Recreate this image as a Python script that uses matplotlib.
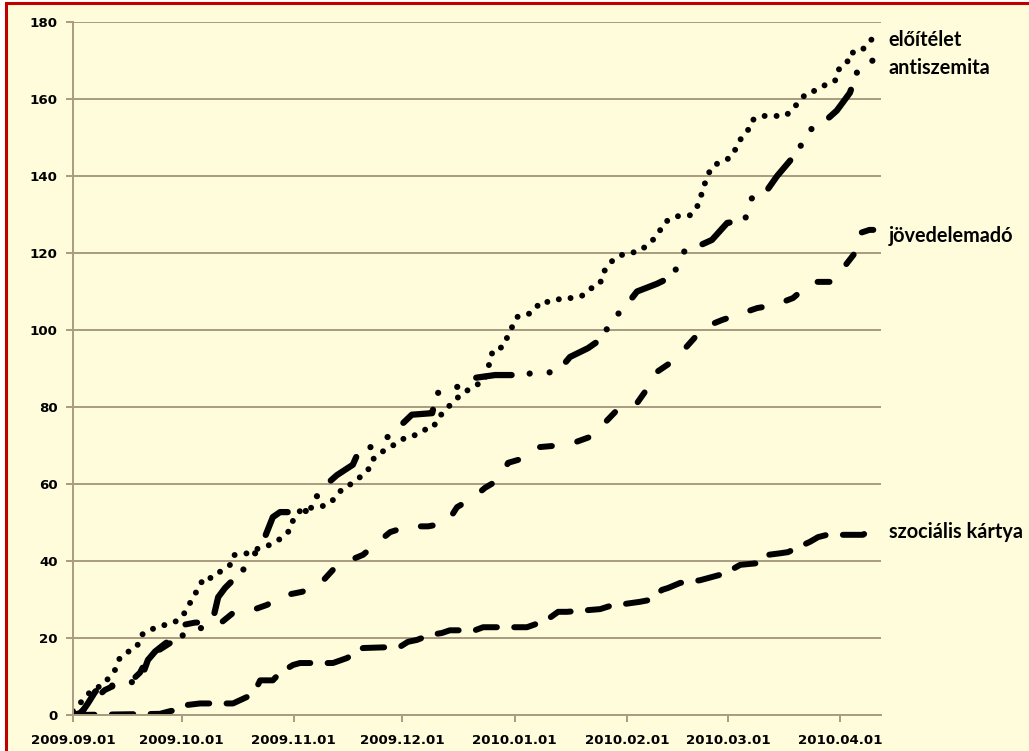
import matplotlib

matplotlib.use('Agg')
import matplotlib.pyplot as plt
import matplotlib.dates as mdates
from matplotlib.patches import Rectangle
import pandas as pd

# days since 2009.09.01 and cumulative counts
eloitelet_days = [0, 1.1, 2.8, 5.2, 8.3, 11.6, 13, 15.2, 17.7, 18.5, 19.9, 22.7, 25.4, 28.2, 30.1,
                  31.8, 33.1, 35.1, 35.9, 38.7, 40.6, 43.4, 44.2, 48.1, 50.3, 53, 55.2, 57.7, 59.9,
                  60.8, 62.7, 65.5, 68.2, 71, 72.9, 74.6, 77.3, 79.3, 81.5, 82.6, 84.8, 87, 89.5,
                  91.7, 94.5, 96.7, 99.4, 100.8, 102.8, 104.7, 106.9, 109.1, 113.8, 115.2, 116,
                  118.8, 119.9, 121.3, 122.7, 125.4, 127.6, 129, 132.3, 135.1, 138.1, 140.9, 143.4,
                  145.6, 146.4, 148.3, 150.3, 153, 156.1, 159.4, 161.6, 163.5, 166.3, 170.4, 172.4,
                  173.2, 175.1, 176.5, 178.7, 181.5, 182.9, 184.3, 186.5, 187.6, 190.3, 196.7, 198.6,
                  200.8, 202.8, 205.5, 207.7, 210.5, 211.3, 213.8, 214.6, 217.4, 219.3, 220.9]
eloitelet = [1, 2.2, 3.9, 6.5, 7.8, 11.7, 15, 16.4, 17.7, 20.3, 21.6, 22.6, 23.4, 24.2, 25.5,
             28, 30.7, 33.3, 35.6, 35.6, 37.2, 39, 41.5, 42, 43, 43.6, 44.6, 46, 48,
             50.6, 53, 53.8, 54, 55, 57, 59, 60.2, 61.8, 63.6, 66.2, 68, 69.3, 70.6,
             72, 72.7, 74, 74.5, 77, 79.2, 81, 83, 84.4, 87, 92, 94.8,
             95.6, 98, 100.8, 103.4, 103.9, 105.2, 107.3, 107.3, 108.3, 108.3, 109, 111,
             112, 114.8, 117.4, 119, 120, 120.3, 122.5, 125, 128, 129.5, 129.8, 132,
             134, 139.7, 142.4, 143.6, 144.7, 146.8, 149.4, 152, 154.5, 155.6, 155.6, 157,
             159.7, 161.6, 162.3, 163.6, 164.7, 167.5, 169.3, 172, 172.2, 174, 175.8]

antiszemita_days = [0, 1.9, 4.1, 6.1, 7.5, 12.2, 16.6, 18.5, 20.7, 22.7, 25.4, 27.6, 34, 38.7,
                    40.1, 42, 47, 50.3, 53, 55.2, 57.2, 62.7, 65.5, 68.2, 72.9, 77.3, 78.7, 82,
                    85.4, 89.5, 93.6, 99.2, 100.6, 106.1, 110.5, 116.6, 122.7, 129, 133.7, 137.3,
                    142.3, 146.4, 148.3, 152.5, 155.8, 161.3, 165.7, 168.5, 170.4, 173.2, 176.5,
                    180.7, 185.6, 187.8, 191.2, 194.5, 198.1, 200.8, 203.6, 207.2, 211, 214.6,
                    216.6, 219.3, 222.9]
antiszemita = [0, 0, 3, 6, 7.3, 7.8, 8.6, 8.6, 14.3, 16.5, 18.5, 20, 21.6, 25,
               30.6, 33, 37.7, 42, 46.2, 51.4, 52.7, 52.7, 53.2, 58.4, 62.3, 65, 68, 69.5,
               71, 74.3, 78, 78.4, 83.6, 85.2, 87.5, 88.3, 88.3, 89, 89, 93,
               95.3, 98, 102, 106, 110, 112, 114, 120, 122, 122, 123.4,
               127.8, 128.6, 135, 135.6, 140, 144, 147.5, 152, 153.8, 157, 161.6,
               167, 168.3, 172.2]

jovedelemado_days = [0, 1.9, 4.7, 8.8, 12.2, 15.7, 18.5, 20.7, 24, 28.2, 30.4, 33.7, 41.2, 44.2,
                     49.7, 53.6, 58, 63.3, 68.2, 71.8, 76, 80.1, 84, 87.6, 92.5, 98.1, 103.3,
                     106.1, 110.5, 113.8, 117.4, 120.2, 124.9, 129, 134, 139.2, 144.2, 147,
                     151.1, 155.8, 158.8, 160.8, 164.9, 168.2, 172.4, 174.6, 179.3, 183.7, 189,
                     193.9, 198.9, 204.1, 209.9, 212.7, 216, 216.8, 220, 222.1]
jovedelemado = [0, 0.5, 3, 6.5, 8, 8.5, 11, 15, 17, 19.5, 23.4, 24, 24.2, 26.5,
                27.3, 28.6, 31, 32, 34, 37.7, 40, 41.6, 44.7, 47.5, 49, 49, 49.9,
                54, 56.4, 59, 61, 65.5, 66.8, 69.6, 70, 71, 72.7, 76,
                80, 81, 85, 88.8, 91.4, 94.3, 98.7, 100.8, 102.6, 104, 105.7,
                106.5, 108.3, 112.5, 112.5, 116, 120, 125, 126, 126]

szocialis_days = [0, 24, 26.8, 28.7, 31.5, 35.1, 44.2, 48.1, 50.8, 51.7, 55.2, 57.2, 60.8, 62.7,
                  71.8, 75.7, 78.5, 80.1, 90.3, 92.5, 95, 98.6, 101.9, 104.1, 111, 113.3, 125.4,
                  129, 130.9, 134, 136.5, 145.6, 148.3, 156.6, 159.4, 162.7, 164.4, 167.7, 173.2,
                  178.7, 180.9, 184.3, 189.8, 192, 195.3, 197.5, 203.6, 205.8, 208.3, 218.2, 220.7]
szocialis = [0, 0.3, 1, 1.3, 2.6, 3, 3, 4.7, 7.3, 9, 9, 11, 13, 13.5,
             13.5, 14.8, 16.4, 17.4, 17.7, 19, 19.5, 20.8, 21.3, 22, 22, 22.8, 22.8,
             24, 24.7, 26.8, 26.8, 27.5, 28.3, 29.4, 29.9, 32.5, 33, 34.3, 35,
             36.4, 37.2, 39, 39.5, 41.6, 42, 42.3, 45, 46.2, 46.8, 46.8, 48.3]

series_labels = ['előítélet', 'antiszemita', 'jövedelemadó', 'szociális kártya']
label_y = [175.3, 168, 124.4, 47.5]

start = pd.Timestamp('2009-09-01')


def to_dates(days):
    return start + pd.to_timedelta(days, unit='D')


bg = '#FFFCDB'
grid_c = '#A89B80'

fig = plt.figure(figsize=(10.29, 7.51), dpi=100)
fig.patch.set_facecolor('white')
fig.patches.append(Rectangle((6 / 1029, -0.05), 1.1, 1.05 - 3 / 751, transform=fig.transFigure,
                             facecolor=bg, edgecolor='#C00000', linewidth=2.2, zorder=-10))

ax = fig.add_axes([73 / 1029, 1 - 715 / 751, 808 / 1029, 693 / 751])
ax.set_facecolor(bg)

lw = 4.3
ax.plot(to_dates(eloitelet_days), eloitelet, color='black', lw=lw,
        linestyle=(0, (0.001, 2.0)), dash_capstyle='round')
ax.plot(to_dates(antiszemita_days), antiszemita, color='black', lw=lw + 0.2,
        linestyle=(0, (5.7, 2.9, 0.001, 3.2, 0.001, 3.4)), dash_capstyle='round')
ax.plot(to_dates(jovedelemado_days), jovedelemado, color='black', lw=lw,
        linestyle=(0, (2.0, 4.3)), dash_capstyle='round')
ax.plot(to_dates(szocialis_days), szocialis, color='black', lw=lw,
        linestyle=(0, (3.6, 2.9)), dash_capstyle='round')

ax.set_ylim(0, 180)
ax.set_yticks(range(0, 181, 20))
ax.set_xlim(start, start + pd.Timedelta(days=223.2))
ax.xaxis.set_major_locator(mdates.MonthLocator())
ax.xaxis.set_major_formatter(mdates.DateFormatter('%Y.%m.%d'))

ax.grid(axis='y', color=grid_c, linewidth=1.4)
ax.set_axisbelow(True)
for s in ['top', 'right']:
    ax.spines[s].set_visible(False)
for s in ['left', 'bottom']:
    ax.spines[s].set_color(grid_c)
    ax.spines[s].set_linewidth(1.4)
ax.tick_params(axis='both', color=grid_c, width=1.4, length=5, labelsize=9.6)
ax.tick_params(axis='y', pad=6)
ax.tick_params(axis='x', pad=9)
for t in ax.get_xticklabels() + ax.get_yticklabels():
    t.set_fontweight('bold')
    t.set_family('DejaVu Sans')

label_x = start + pd.Timedelta(days=225.3)
for name, y in zip(series_labels, label_y):
    ax.text(label_x, y, name, ha='left', va='center', fontsize=14.3, fontweight='bold',
            family=['Lato', 'DejaVu Sans'], clip_on=False)

fig.savefig('out.png', dpi=100, facecolor=fig.get_facecolor())
